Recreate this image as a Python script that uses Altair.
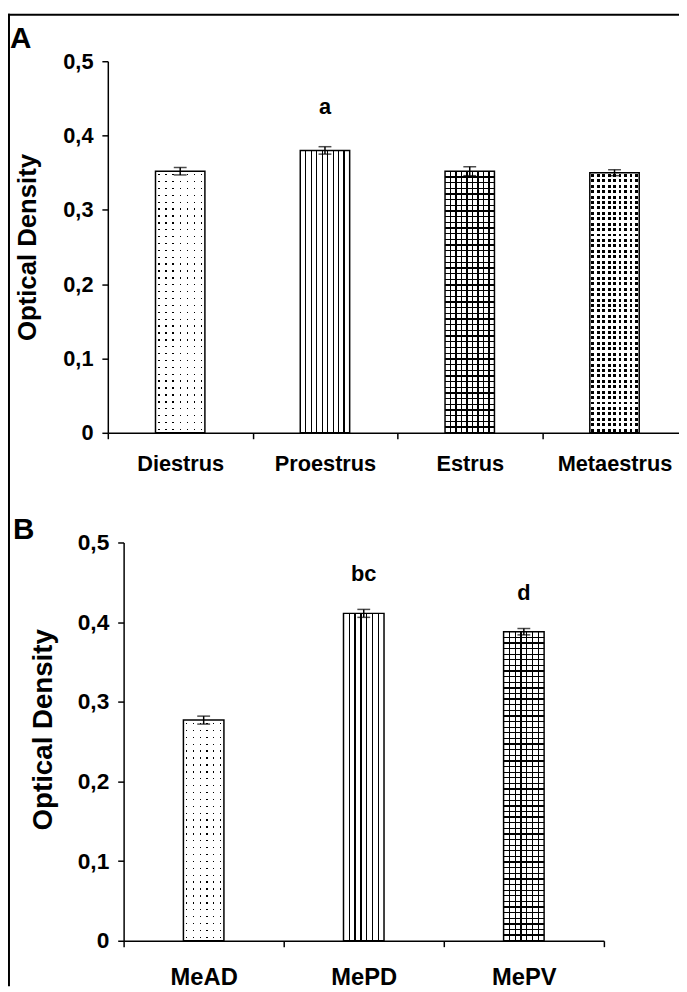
import altair as alt
import pandas as pd

# ---------------- data ----------------
cycle_phases = ["Diestrus", "Proestrus", "Estrus", "Metaestrus"]
cycle_od = [0.352, 0.380, 0.352, 0.350]
cycle_sem = [0.005, 0.005, 0.006, 0.004]
cycle_sig = ["", "a", "", ""]

nuclei = ["MeAD", "MePD", "MePV"]
nuclei_od = [0.277, 0.411, 0.388]
nuclei_sem = [0.005, 0.005, 0.004]
nuclei_sig = ["", "bc", "d"]

y_ticks = [0, 0.1, 0.2, 0.3, 0.4, 0.5]
y_title = "Optical Density"
panel_labels = ["A", "B"]

# ---------------- layout / style ----------------
W, H = 679, 984
FONT = "Liberation Sans"
BLACK = "#000000"
WHITE = "#ffffff"
CLEAR = "rgba(255,255,255,0)"

A_XR = [101, 687]
A_YR = [424, 48]
B_XR = [117, 603]
B_YR = [938, 535]


def gradient(centers, half, ink, bg, vertical):
    stops = [{"offset": 0, "color": bg}]
    for c in centers:
        a = round(max(0.0, c - half), 5)
        b = round(min(1.0, c + half), 5)
        stops += [{"offset": a, "color": bg}, {"offset": a, "color": ink},
                  {"offset": b, "color": ink}, {"offset": b, "color": bg}]
    stops.append({"offset": 1, "color": bg})
    return {"gradient": "linear", "x1": 0, "y1": 0,
            "x2": 0 if vertical else 1, "y2": 1 if vertical else 0,
            "stops": stops}


def pattern_fills(kind, w, h):
    if kind == "vlines":
        n = max(2, round(w / 5.8))
        cols = [i / n for i in range(1, n)]
        return [gradient(cols, 0.7 / w, BLACK, WHITE, False)]
    if kind == "grid":
        sp = 5.7
        ncol = max(2, round(w / sp))
        nrow = max(2, round(h / sp))
        rows = [i / nrow for i in range(1, nrow)]
        cols = [i / ncol for i in range(1, ncol)]
        return [gradient(rows, 0.65 / h, BLACK, WHITE, True),
                gradient(cols, 0.65 / w, BLACK, CLEAR, False)]
    if kind == "dots":
        sp, sz = 7.0, 1.4
    else:  # squares
        sp, sz = 5.5, 3.0
    ncol = max(1, round(w / sp))
    nrow = max(1, round(h / sp))
    rows = [(i + 0.5) / nrow for i in range(nrow)]
    cols = [(j + 0.5) / ncol for j in range(ncol)]
    return [gradient(rows, sz / 2 / h, BLACK, WHITE, True),
            gradient(cols, sz / 2 / w, CLEAR, WHITE, False)]


def panel(cats, vals, sems, sigs, kinds, xr, yr, bar_w, cap_w, letter_dy,
          xpad, xfs, yfs, tfs, title_y):
    df = pd.DataFrame({"cat": cats, "od": vals, "sem": sems, "sig": sigs})
    ppu = (yr[0] - yr[1]) / 0.5
    xs = alt.Scale(domain=cats, range=xr, paddingInner=0, paddingOuter=0)
    ys = alt.Scale(domain=[0, 0.5], range=yr, nice=False)
    x_axis = alt.Axis(
        title=None, orient="bottom", offset=-(H - yr[0]), tickBand="extent",
        labelAngle=0, grid=False, domainColor=BLACK, domainWidth=1.5,
        tickColor=BLACK, tickWidth=1.5, tickSize=6, labelFont=FONT,
        labelFontWeight="bold", labelFontSize=xfs, labelColor=BLACK,
        labelPadding=xpad)
    y_axis = alt.Axis(
        title=y_title, orient="left", offset=-xr[0], values=y_ticks,
        labelExpr="datum.value == 0 ? '0' : replace(format(datum.value, '.1f'), '.', ',')",
        grid=False, domainColor=BLACK, domainWidth=1.5, tickColor=BLACK,
        tickWidth=1.5, tickSize=6, labelFont=FONT, labelFontWeight="bold",
        labelFontSize=yfs, labelColor=BLACK, labelPadding=9,
        titleFont=FONT, titleFontWeight="bold", titleFontSize=tfs,
        titleColor=BLACK, titleAngle=270, titleAlign="center",
        titleBaseline="middle", titleX=-81, titleY=title_y)
    X = alt.X("cat:N", sort=cats, scale=xs, axis=x_axis)

    def Y(f):
        return alt.Y(f, type="quantitative", scale=ys, axis=y_axis)

    base = alt.Chart(df).transform_calculate(
        lo="datum.od - datum.sem", hi="datum.od + datum.sem")
    layers = []
    for cat, v, kind in zip(cats, vals, kinds):
        fills = pattern_fills(kind, bar_w, v * ppu)
        for k, f in enumerate(fills):
            kw = dict(size=bar_w, fill=f)
            if k == len(fills) - 1:
                kw.update(stroke=BLACK, strokeWidth=1.5)
            else:
                kw.update(strokeWidth=0)
            layers.append(base.transform_filter(alt.datum.cat == cat)
                          .mark_bar(**kw).encode(x=X, y=Y("od")))
    layers.append(base.mark_rule(color=BLACK, strokeWidth=1.5)
                  .encode(x=X, y=Y("lo"), y2="hi:Q"))
    layers.append(base.mark_tick(color=BLACK, size=cap_w, thickness=1.5)
                  .encode(x=X, y=Y("lo")))
    layers.append(base.mark_tick(color=BLACK, size=cap_w, thickness=1.5)
                  .encode(x=X, y=Y("hi")))
    layers.append(base.transform_filter(alt.datum.sig != "")
                  .mark_text(font=FONT, fontWeight="bold", fontSize=22,
                             color=BLACK, baseline="middle", dy=letter_dy)
                  .encode(x=X, y=Y("hi"), text="sig:N"))
    return alt.layer(*layers)


panelA = panel(cycle_phases, cycle_od, cycle_sem, cycle_sig,
               ["dots", "vlines", "grid", "squares"], A_XR, A_YR, 50, 13, -40,
               15, 22, 22, 26, 236)
panelB = panel(nuclei, nuclei_od, nuclei_sem, nuclei_sig,
               ["dots", "vlines", "grid"], B_XR, B_YR, 41, 13, -36,
               19, 24, 23, 28, 724)

one = pd.DataFrame({"k": [0]})
frame_left = alt.Chart(one).mark_rule(color=BLACK, strokeWidth=2).encode(
    x=alt.value(1), y=alt.value(0), y2=alt.value(H))
frame_top = alt.Chart(one).mark_rule(color=BLACK, strokeWidth=2).encode(
    x=alt.value(0), x2=alt.value(W), y=alt.value(1))
labA = alt.Chart(pd.DataFrame({"t": [panel_labels[0]]})).mark_text(
    font=FONT, fontWeight="bold", fontSize=30, color=BLACK, align="left",
    baseline="alphabetic").encode(x=alt.value(2), y=alt.value(35), text="t:N")
labB = alt.Chart(pd.DataFrame({"t": [panel_labels[1]]})).mark_text(
    font=FONT, fontWeight="bold", fontSize=30, color=BLACK, align="left",
    baseline="alphabetic").encode(x=alt.value(5), y=alt.value(531), text="t:N")

chart = alt.layer(panelA, panelB, frame_left, frame_top, labA, labB).resolve_scale(
    x="independent", y="independent"
).properties(
    width=W, height=H, autosize=alt.AutoSizeParams(type="none"), padding=0,
    background=WHITE
).configure_view(strokeWidth=0)

chart.save("out.html", embed_options={"renderer": "svg", "actions": False})
